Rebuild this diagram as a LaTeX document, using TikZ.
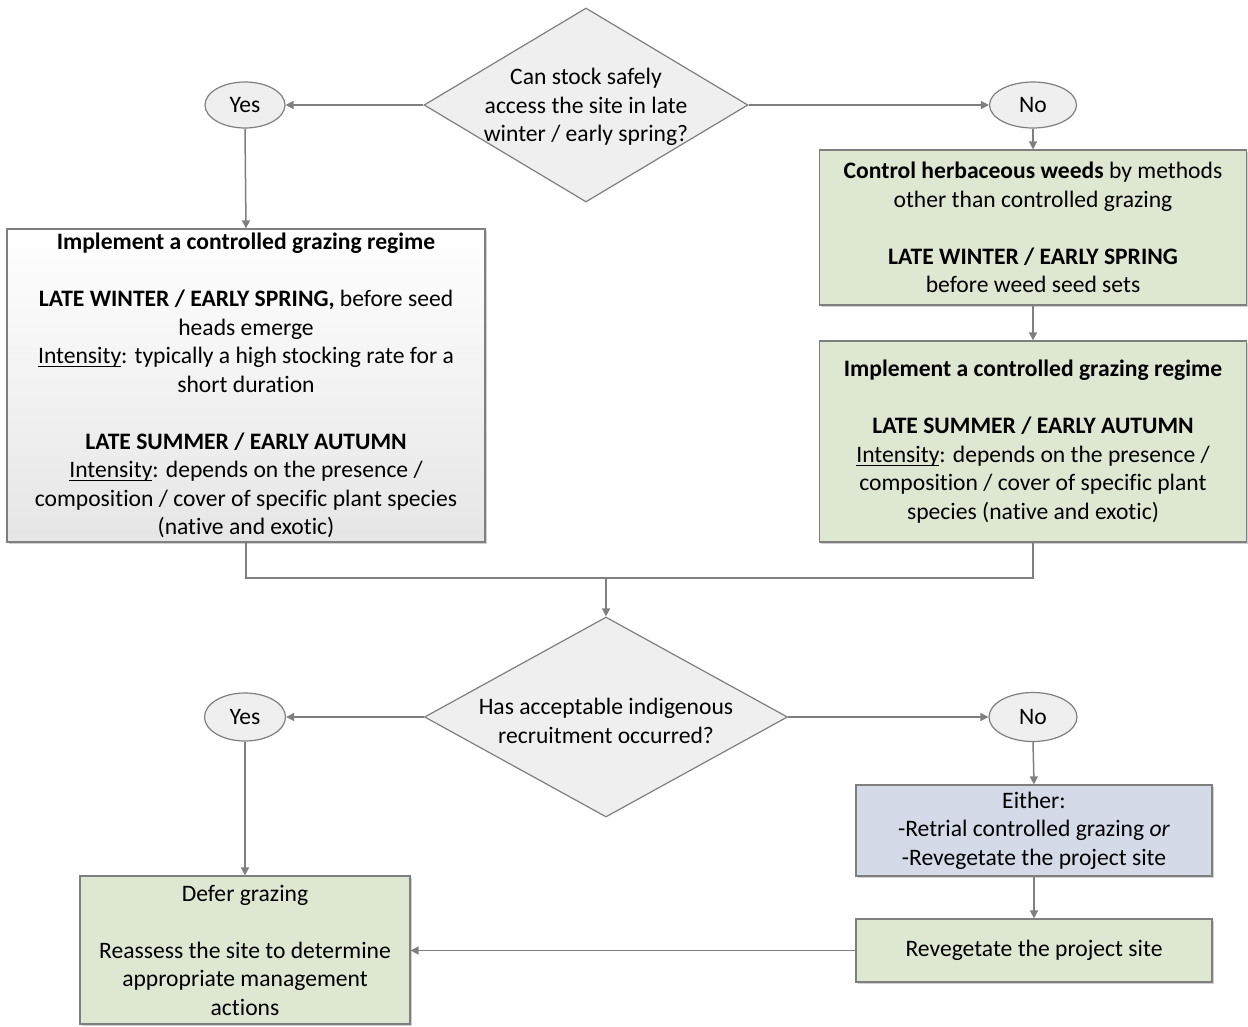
\documentclass[tikz,border=0pt]{standalone}
\usepackage{fontspec}
\setmainfont{Carlito}[Ligatures=NoCommon]
\usetikzlibrary{shapes.geometric,arrows.meta,shadows}

\definecolor{edge}{HTML}{7F7F7F}
\definecolor{greenfill}{HTML}{DEE7D1}
\definecolor{bluefill}{HTML}{D4DAE8}
\definecolor{grayfill}{HTML}{EFEFEF}

% underline drawn as a rule under the word, keeping the word's spacing
\newcommand\undl[1]{\setbox0\hbox{#1}\rlap{\rule[-3.5pt]{\wd0}{1.1pt}}\box0}

\tikzset{
  txt/.style={align=center, inner sep=0pt, text=black,
    font=\fontsize{23.6}{28.5}\selectfont},
  box/.style={txt, draw=edge, line width=1.2pt,
    drop shadow={shadow xshift=1.5pt, shadow yshift=-1.5pt, fill=black, opacity=0.18}},
  greenbox/.style={box, fill=greenfill},
  bluebox/.style={box, fill=bluefill},
  graybox/.style={box, top color=white, bottom color=black!10},
  diam/.style={diamond, draw=edge, line width=1.2pt, fill=grayfill, inner sep=0pt},
  oval/.style={ellipse, txt, draw=edge, line width=1.2pt, fill=grayfill},
  conn/.style={draw=edge, line width=1.5pt},
  arr/.style={conn, -{Triangle[length=8pt,width=8pt]}},
}

\begin{document}
\begin{tikzpicture}[x=1pt,y=-1pt]
\useasboundingbox (0,0) rectangle (1248,1026);
\fill[white] (0,0) rectangle (1248,1026);

% first decision
\node[diam, minimum width=324pt, minimum height=194pt] (q1) at (586,105) {};
\node[txt] (q1t) at (586,107) {Can stock safely\\access the site in late\\winter / early spring?};
\node[oval, minimum width=80pt, minimum height=46pt] (y1) at (245,105) {Yes};
\node[oval, minimum width=87pt, minimum height=46pt] (n1) at (1033,105) {No};

% left branch
\node[graybox, minimum width=478pt, minimum height=313pt] (g1) at (246,385.5)
  {\textbf{Implement a controlled grazing regime}\\[28.5pt]
   \textbf{LATE WINTER / EARLY SPRING,} before seed\\
   heads emerge\\
   \undl{Intensity}: typically a high stocking rate for a\\
   short duration\\[28.5pt]
   \textbf{LATE SUMMER / EARLY AUTUMN}\\
   \undl{Intensity}: depends on the presence /\\
   composition / cover of specific plant species\\
   (native and exotic)};

% right branch
\node[greenbox, minimum width=427pt, minimum height=155pt] (w1) at (1033,227.5)
  {\textbf{Control herbaceous weeds} by methods\\
   other than controlled grazing\\[28.5pt]
   \textbf{LATE WINTER / EARLY SPRING}\\
   before weed seed sets};
\node[greenbox, minimum width=427pt, minimum height=201pt] (w2) at (1033,441.5)
  {\textbf{Implement a controlled grazing regime}\\[28.5pt]
   \textbf{LATE SUMMER / EARLY AUTUMN}\\
   \undl{Intensity}: depends on the presence /\\
   composition / cover of specific plant\\
   species (native and exotic)};

% second decision
\coordinate (m) at (606,578);
\node[diam, minimum width=363pt, minimum height=200pt] (q2) at (606,717) {};
\node[txt] (q2t) at (606,721) {Has acceptable indigenous\\recruitment occurred?};
\node[oval, minimum width=81pt, minimum height=48pt] (y2) at (245,717) {Yes};
\node[oval, minimum width=88pt, minimum height=49pt] (n2) at (1033,717) {No};

\node[bluebox, minimum width=356pt, minimum height=91pt] (e1) at (1034,830.5)
  {Either:\\-Retrial controlled grazing \textit{or}\\-Revegetate the project site};
\node[greenbox, minimum width=356pt, minimum height=63pt] (r1) at (1034,950.5)
  {Revegetate the project site};
\node[greenbox, minimum width=330pt, minimum height=148pt] (d1) at (245,950)
  {Defer grazing\\[28.5pt]
   Reassess the site to determine\\
   appropriate management\\
   actions};

% connectors
\draw[arr] (q1.west) -- (y1.east);
\draw[arr] (q1.east) -- (n1.west);
\draw[arr] (y1.south) -- (g1.north);
\draw[arr] (n1.south) -- (w1.north);
\draw[arr] (w1.south) -- (w2.north);
\draw[conn] (g1.south) |- (m) -| (w2.south);
\draw[arr] (m) -- (q2.north);
\draw[arr] (q2.west) -- (y2.east);
\draw[arr] (q2.east) -- (n2.west);
\draw[arr] (y2.south) -- (d1.north);
\draw[arr] (n2.south) -- (e1.north);
\draw[arr] (e1.south) -- (r1.north);
\draw[arr] (r1.west) -- (r1.west -| d1.east);
\end{tikzpicture}
\end{document}
